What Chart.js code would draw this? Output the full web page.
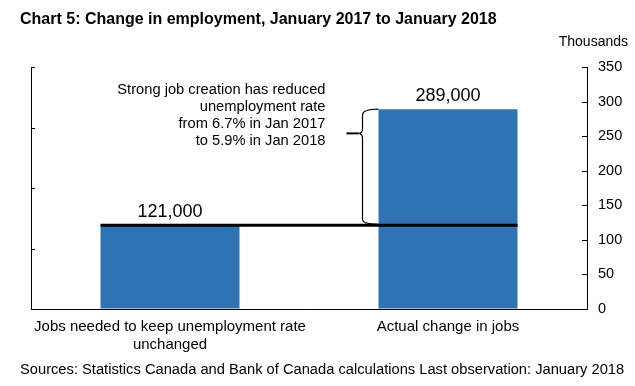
<!DOCTYPE html>
<html>
<head>
<meta charset="utf-8">
<script src="https://cdn.jsdelivr.net/npm/chart.js@4.4.1/dist/chart.umd.min.js"></script>
<style>
  html, body { margin: 0; padding: 0; background: #fff; }
  #wrap { width: 635px; height: 386px; }
</style>
</head>
<body>
<div id="wrap"><canvas id="empChart" width="635" height="386"></canvas></div>
<script>
// data (thousands of jobs)
const categories = [['Jobs needed to keep unemployment rate', 'unchanged'], 'Actual change in jobs'];
const jobsThousands = [121, 289];
const valueLabels = ['121,000', '289,000'];
const noteLines = ['Strong job creation has reduced', 'unemployment rate', 'from 6.7% in Jan 2017', 'to 5.9% in Jan 2018'];
const braceTipValue = 254;

const titleText = 'Chart 5: Change in employment, January 2017 to January 2018';
const unitText = 'Thousands';
const footerText = 'Sources: Statistics Canada and Bank of Canada calculations Last observation: January 2018';

const FONT = "'Liberation Sans', Arial, sans-serif";
const BLUE = '#2e74b5';

Chart.defaults.font.family = FONT;
Chart.defaults.color = '#000';

// draws title/footer, value labels, the 121k reference line, brace and note
const decorations = {
    id: 'decorations',
    afterDraw(chart) {
        const ctx = chart.ctx;
        const y = chart.scales.y;
        const y2 = chart.scales.y2;
        const bars = chart.getDatasetMeta(0).data;
        ctx.save();

        // title + unit + footer
        ctx.fillStyle = '#000';
        ctx.textBaseline = 'middle';
        ctx.textAlign = 'left';
        ctx.font = 'bold 16px ' + FONT;
        ctx.fillText(titleText, 20, 20);
        ctx.font = '14px ' + FONT;
        ctx.textAlign = 'right';
        ctx.fillText(unitText, 628, 42);
        ctx.font = '14.7px ' + FONT;
        ctx.textAlign = 'left';
        ctx.fillText(footerText, 20, 370);

        // inward tick marks
        ctx.strokeStyle = '#000';
        ctx.lineWidth = 1;
        y.ticks.forEach(t => {
            const py = Math.round(y.getPixelForValue(t.value)) + 0.5;
            ctx.beginPath();
            ctx.moveTo(chart.chartArea.right, py);
            ctx.lineTo(chart.chartArea.right - 5, py);
            ctx.stroke();
        });
        y2.ticks.forEach(t => {
            const py = Math.round(y2.getPixelForValue(t.value)) + 0.5;
            ctx.beginPath();
            ctx.moveTo(chart.chartArea.left, py);
            ctx.lineTo(chart.chartArea.left + 4, py);
            ctx.stroke();
        });

        // value labels above bars
        ctx.font = '18px ' + FONT;
        ctx.textAlign = 'center';
        ctx.textBaseline = 'alphabetic';
        bars.forEach((b, i) => ctx.fillText(valueLabels[i], b.x, b.y - 8));

        // black line at the "needed" level
        const lvl = y.getPixelForValue(jobsThousands[0]);
        ctx.lineWidth = 3;
        ctx.beginPath();
        ctx.moveTo(bars[0].x - bars[0].width / 2, lvl);
        ctx.lineTo(bars[1].x + bars[1].width / 2, lvl);
        ctx.stroke();

        // brace between the two levels
        const yTop = y.getPixelForValue(jobsThousands[1]);
        const yMid = y.getPixelForValue(braceTipValue);
        const xr = bars[1].x - bars[1].width / 2;
        const xv = xr - 16;
        const xl = xv - 16;
        ctx.lineWidth = 1.2;
        ctx.beginPath();
        ctx.moveTo(xr, yTop);
        ctx.quadraticCurveTo(xv, yTop, xv, yTop + 6);
        ctx.lineTo(xv, yMid - 5);
        ctx.quadraticCurveTo(xv, yMid, xv - 4, yMid);
        ctx.quadraticCurveTo(xv, yMid, xv, yMid + 5);
        ctx.lineTo(xv, lvl - 6);
        ctx.quadraticCurveTo(xv, lvl - 1, xr, lvl - 1);
        ctx.stroke();
        ctx.lineWidth = 2;
        ctx.beginPath();
        ctx.moveTo(xv - 4, yMid);
        ctx.lineTo(xl, yMid);
        ctx.stroke();

        // note text
        ctx.font = '14.7px ' + FONT;
        ctx.textAlign = 'right';
        ctx.textBaseline = 'middle';
        noteLines.forEach((line, i) => ctx.fillText(line, xl - 21, 90 + i * 17));

        ctx.restore();
    }
};

new Chart(document.getElementById('empChart'), {
    type: 'bar',
    data: {
        labels: categories,
        datasets: [{
            data: jobsThousands,
            backgroundColor: BLUE,
            borderWidth: 0,
            barPercentage: 0.5,
            categoryPercentage: 1.0,
            yAxisID: 'y'
        }]
    },
    options: {
        responsive: false,
        animation: false,
        events: [],
        layout: { padding: { top: 67, bottom: 32, left: 0, right: 0 } },
        plugins: { legend: { display: false }, tooltip: { enabled: false }, title: { display: false } },
        scales: {
            x: {
                grid: { display: false, drawTicks: false },
                border: { display: true, color: '#000', width: 1 },
                ticks: { font: { size: 15 }, color: '#000', padding: 9, maxRotation: 0, autoSkip: false },
                afterFit: s => { s.height = 45; }
            },
            y: {
                position: 'right',
                min: 0, max: 350,
                grid: { drawOnChartArea: false, drawTicks: false },
                border: { display: true, color: '#000', width: 1 },
                ticks: { stepSize: 50, font: { size: 14.5 }, color: '#000', padding: 11 },
                afterFit: s => { s.width = 48; }
            },
            y2: {
                position: 'left',
                min: 0, max: 4,
                grid: { drawOnChartArea: false, drawTicks: false },
                border: { display: true, color: '#000', width: 1 },
                ticks: { stepSize: 1, display: false },
                afterFit: s => { s.width = 31; }
            }
        }
    },
    plugins: [decorations]
});
</script>
</body>
</html>
